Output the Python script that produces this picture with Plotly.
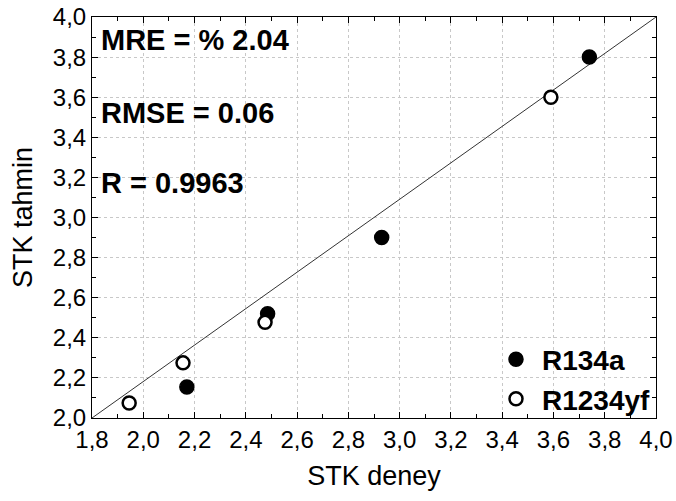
import plotly.graph_objects as go

# Data
r134a_x = [3.74, 2.93, 2.485, 2.17]
r134a_y = [3.80, 2.90, 2.52, 2.155]
r1234yf_x = [1.945, 2.155, 2.475, 3.59]
r1234yf_y = [2.075, 2.275, 2.477, 3.60]
line_x = [1.8, 4.0]
line_y = [2.0, 4.0]
x_ticks = [1.8, 2.0, 2.2, 2.4, 2.6, 2.8, 3.0, 3.2, 3.4, 3.6, 3.8, 4.0]
y_ticks = [2.0, 2.2, 2.4, 2.6, 2.8, 3.0, 3.2, 3.4, 3.6, 3.8, 4.0]
stats = ["MRE = % 2.04", "RMSE = 0.06", "R = 0.9963"]

fig = go.Figure()
fig.add_trace(go.Scatter(x=line_x, y=line_y, mode="lines",
                         line=dict(color="#333333", width=1), showlegend=False,
                         hoverinfo="skip"))
fig.add_trace(go.Scatter(x=r134a_x, y=r134a_y, mode="markers", name="<b>R134a</b>",
                         marker=dict(color="black", size=14,
                                     line=dict(color="black", width=1.5))))
fig.add_trace(go.Scatter(x=r1234yf_x, y=r1234yf_y, mode="markers", name="<b>R1234yf</b>",
                         marker=dict(color="white", size=13,
                                     line=dict(color="black", width=2.5))))

font = "Liberation Sans, Arial, sans-serif"
axis_common = dict(
    showline=True, linecolor="black", linewidth=1, mirror="ticks",
    ticks="inside", ticklen=6, tickcolor="black",
    showgrid=True, gridcolor="#c8c8c8", griddash="dot", gridwidth=1,
    zeroline=False, tickformat=".1f", automargin=False,
    tickfont=dict(family=font, size=24, color="black"),
    minor=dict(dtick=0.1, ticks="inside", ticklen=4, tickcolor="black", showgrid=False),
)
fig.update_xaxes(range=[1.8, 4.0], tickvals=x_ticks,
                 title=dict(text="STK deney", font=dict(family=font, size=27, color="black"),
                            standoff=14),
                 **axis_common)
fig.update_yaxes(range=[2.0, 4.0], tickvals=y_ticks,
                 title=dict(text="STK tahmin", font=dict(family=font, size=27, color="black"),
                            standoff=12),
                 **axis_common)

ys = [0.942, 0.76, 0.587]
for t, yy in zip(stats, ys):
    fig.add_annotation(text="<b>%s</b>" % t, xref="paper", yref="paper", x=0.012, y=yy,
                       xanchor="left", yanchor="middle", showarrow=False,
                       font=dict(family=font, size=29, color="black"))

fig.update_layout(
    width=676, height=501,
    margin=dict(l=92, r=20, t=17, b=83, autoexpand=False),
    plot_bgcolor="white", paper_bgcolor="white",
    separators=", ",
    legend=dict(x=1.0, y=-0.014, xanchor="right", yanchor="bottom",
                bgcolor="rgba(255,255,255,0)", tracegroupgap=0,
                font=dict(family=font, size=28, color="black"),
                itemwidth=42),
    showlegend=True,
)
fig.write_html("out.html")
